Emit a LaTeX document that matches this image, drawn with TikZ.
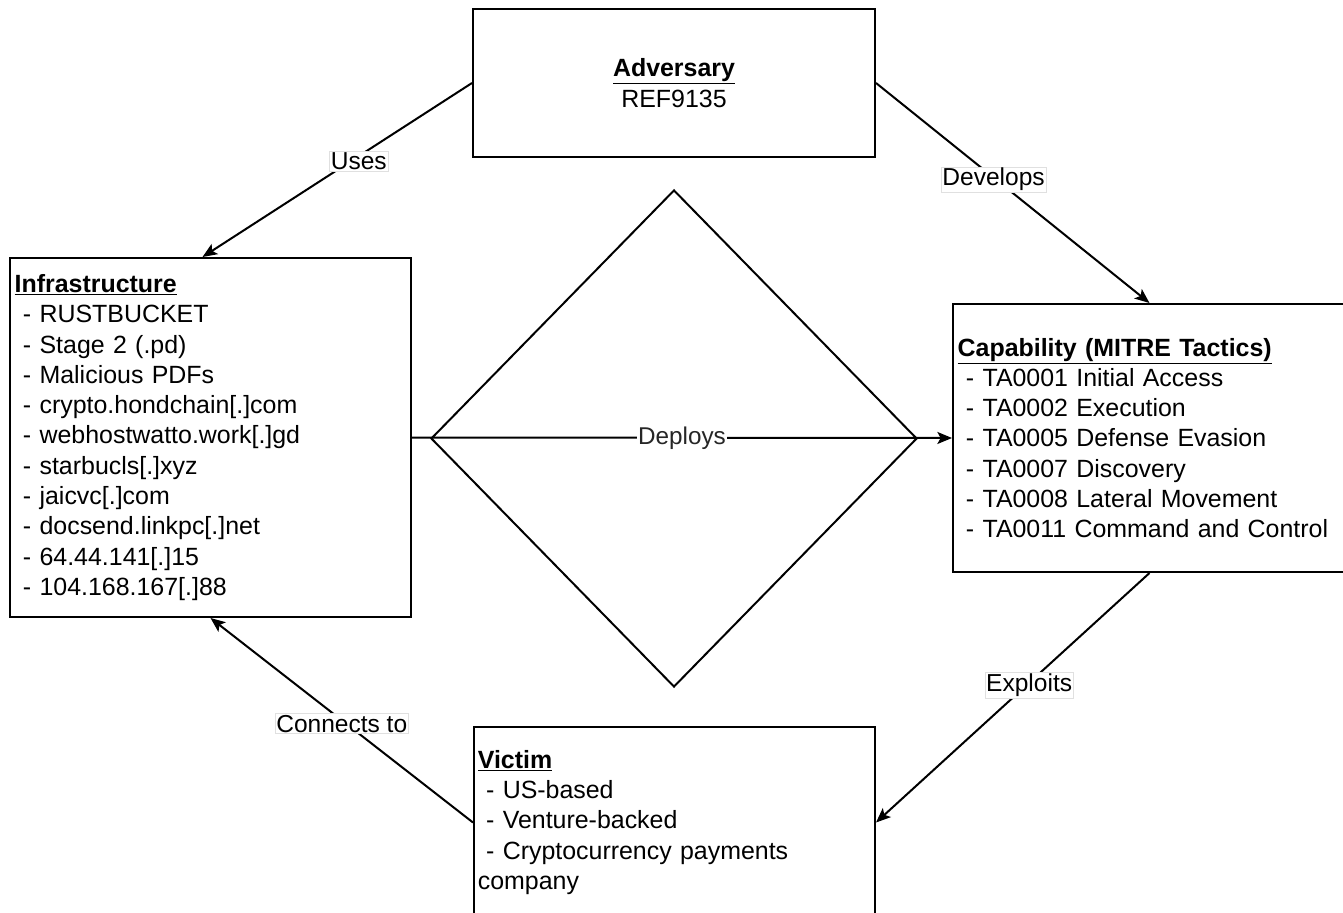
\documentclass[tikz,border=0pt]{standalone}
\usepackage{fontspec}
\setmainfont{Liberation Sans}
\usetikzlibrary{shapes.geometric,arrows.meta,calc}
\begin{document}
\begin{tikzpicture}[x=0.75pt,y=-0.75pt,
  every node/.style={font=\fontsize{18.7}{22.7}\selectfont},
  box/.style={draw,line width=1.5pt,rectangle,inner xsep=3.5pt,inner ysep=0pt},
  conn/.style={line width=1.5pt,-{Stealth[length=11pt,width=9pt,inset=2.5pt]}},
  lbl/.style={fill=white,draw=black!12,line width=0.4pt,inner sep=1pt,font=\fontsize{18.4}{20}\selectfont},
  dlbl/.style={fill=white,inner sep=1pt,font=\fontsize{18.2}{20}\selectfont,text=black!85}]
\useasboundingbox (0,0) rectangle (1343,913);

\node[box,minimum width=301.5pt,minimum height=111pt,align=center] (adv) at (674,83)
  {\underline{\textbf{Adversary}}\\[1pt]REF9135};

\node[box,minimum width=300.75pt,minimum height=269.25pt,text width=293.75pt,align=left] (infra) at (210.5,437.5)
  {\underline{\textbf{Infrastructure}}\\
   \ - RUSTBUCKET\\
   \ - Stage 2 (.pd)\\
   \ - Malicious PDFs\\
   \ - crypto.hondchain[.]com\\
   \ - webhostwatto.work[.]gd\\
   \ - starbucls[.]xyz\\
   \ - jaicvc[.]com\\
   \ - docsend.linkpc[.]net\\
   \ - 64.44.141[.]15\\
   \ - 104.168.167[.]88};

\node[box,minimum width=294.75pt,minimum height=201pt,text width=287.75pt,align=left] (cap) at (1149.5,438)
  {\underline{\textbf{Capability (MITRE Tactics)}}\\
   \ - TA0001 Initial Access\\
   \ - TA0002 Execution\\
   \ - TA0005 Defense Evasion\\
   \ - TA0007 Discovery\\
   \ - TA0008 Lateral Movement\\
   \ - TA0011 Command and Control};

\node[box,minimum width=300.75pt,minimum height=143.25pt,text width=295pt,inner xsep=2.5pt,align=left] (vic) at (674.5,822.5)
  {\underline{\textbf{Victim}}\\
   \ - US-based\\
   \ - Venture-backed\\
   \ - Cryptocurrency payments\\
   company};

\node[diamond,draw,line width=1.5pt,minimum width=364.5pt,minimum height=372.75pt,inner sep=0pt] (dia) at (674,438.5) {};

\draw[conn] (adv.west) -- node[lbl,pos=0.42,yshift=-4pt] (luses) {Uses} ($(infra.north)+(-8,0)$);
\draw[conn] (adv.east) -- node[lbl,pos=0.43,yshift=-1.5pt] (ldev) {Develops} (cap.north);
\draw[conn] (cap.south) -- node[lbl,pos=0.44,yshift=-2pt] (lexp) {Exploits} (vic.east);
\draw[conn] (vic.west) -- node[lbl,pos=0.5,yshift=-2.5pt] (lcon) {Connects to} (infra.south);
\draw[conn] (infra.east) -- node[dlbl,pos=0.5] (ldep) {Deploys} (cap.west);
\end{tikzpicture}
\end{document}
